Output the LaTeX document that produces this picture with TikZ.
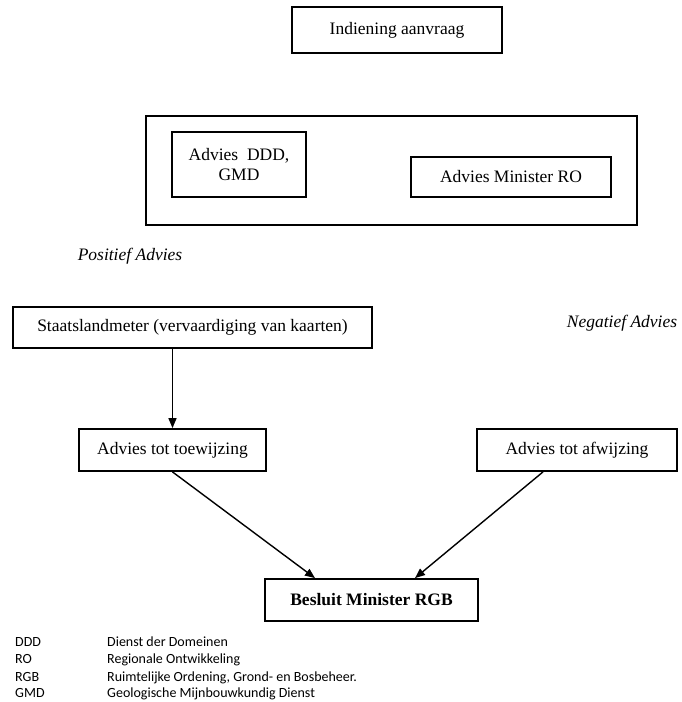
\documentclass[tikz,border=0pt]{standalone}
\usepackage{fontspec}
\setmainfont{Liberation Serif}
\newfontfamily\legendfont{Carlito}
\usetikzlibrary{shapes,arrows.meta,positioning}

\tikzset{
  box/.style={draw, line width=1.8pt, inner sep=0pt, align=center,
    font=\fontsize{17.5}{20}\selectfont},
  uitslag/.style={inner sep=0pt, font=\fontsize{17.5}{20}\selectfont\itshape},
  pijl/.style={-{Triangle[length=10pt,width=8pt]}, line width=1.4pt},
  afk/.style={anchor=base west, inner sep=0pt, font=\legendfont\fontsize{14}{16}\selectfont}
}

\begin{document}
\begin{tikzpicture}[x=1pt,y=-1pt]
\useasboundingbox (0,0) rectangle (681,702);

\node[box, minimum width=210pt, minimum height=46pt] (aanvraag) at (397,30) {Indiening aanvraag};

\node[box, minimum width=491pt, minimum height=109pt] (adviezen) at (391.5,170.5) {};
\node[box, minimum width=134pt, minimum height=65pt] (ddd) at (239,164.5) {Advies\ \ DDD,\\GMD};
\node[box, minimum width=200pt, minimum height=40pt] (ro) at (511,177) {Advies Minister RO};

\node[uitslag] (positief) at (130,256) {Positief Advies};
\node[uitslag] (negatief) at (622,323) {Negatief Advies};

\node[box, minimum width=359pt, minimum height=41pt] (staats) at (192.5,327.5) {Staatslandmeter (vervaardiging van kaarten)};
\node[box, minimum width=187pt, minimum height=42pt] (toew) at (172.5,450) {Advies tot toewijzing};
\node[box, minimum width=200pt, minimum height=42pt] (afw) at (577,450) {Advies tot afwijzing};
\node[box, minimum width=213pt, minimum height=42pt, font=\fontsize{17.5}{20}\selectfont\bfseries] (besluit) at (371.5,600) {Besluit Minister RGB};

\draw[pijl] (toew.north |- staats.south) -- (toew.north);
\draw[pijl] (toew.south) -- ([xshift=-56.5pt]besluit.north);
\draw[pijl] ([xshift=-34pt]afw.south) -- ([xshift=43.5pt]besluit.north);

% afkortingen
\node[afk] (a1) at (15,646) {DDD};
\node[afk] (b1) at (107,646) {Dienst der Domeinen};
\node[afk] (a2) at (15,663) {RO};
\node[afk] (b2) at (107,663) {Regionale Ontwikkeling};
\node[afk] (a3) at (15,681) {RGB};
\node[afk] (b3) at (107,681) {Ruimtelijke Ordening, Grond- en Bosbeheer.};
\node[afk] (a4) at (15,697) {GMD};
\node[afk] (b4) at (107,697) {Geologische Mijnbouwkundig Dienst};

\end{tikzpicture}
\end{document}
